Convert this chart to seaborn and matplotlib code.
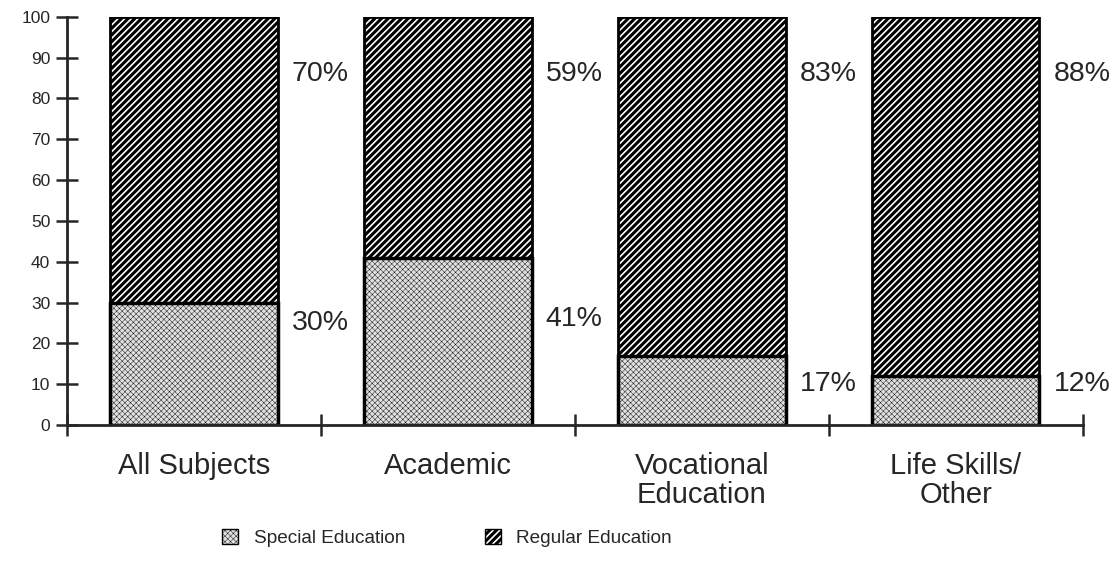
"""Special vs regular education share of course credits, by subject area."""
import matplotlib.pyplot as plt
import pandas as pd
import seaborn as sns
from matplotlib.patches import Patch

categories = ["All Subjects", "Academic", "Vocational\nEducation", "Life Skills/\nOther"]
special_pct = [30, 41, 17, 12]
regular_pct = [70, 59, 83, 88]

regular_label_y = [86, 86, 86, 86]
special_label_y = [25, 26, 10, 10]

SPECIAL_FACE = "#e0e0e0"
SPECIAL_HATCH = "xxxxxx"
REGULAR_HATCH = "/////"

sns.set_style("ticks")
plt.rcParams["font.family"] = ["Liberation Sans", "DejaVu Sans"]
plt.rcParams["hatch.linewidth"] = 2.2


def thin_hatch(patch, lw):
    # hatch linewidth per patch only exists in newer matplotlib
    if hasattr(patch, "set_hatch_linewidth"):
        patch.set_hatch_linewidth(lw)


df = pd.DataFrame({
    "category": categories,
    "special": special_pct,
    "total": [s + r for s, r in zip(special_pct, regular_pct)],
})

fig = plt.figure(figsize=(11.15, 5.8), dpi=100)
ax = fig.add_axes([0.060, 0.267, 0.911, 0.704])

BAR_W = 0.66
# full-height bar = regular education (hatched), special drawn over its base
sns.barplot(data=df, x="category", y="total", color="white", width=BAR_W,
            edgecolor="black", linewidth=2, hatch=REGULAR_HATCH, saturation=1, ax=ax)
n_regular = len(ax.patches)
sns.barplot(data=df, x="category", y="special", color=SPECIAL_FACE, width=BAR_W,
            edgecolor="black", linewidth=2.5, saturation=1, ax=ax)
for p in ax.patches[n_regular:]:
    p.set_hatch(SPECIAL_HATCH)
    thin_hatch(p, 0.3)
for p in ax.patches[:n_regular]:
    thin_hatch(p, 2.2)

for i, (s, r) in enumerate(zip(special_pct, regular_pct)):
    ax.text(i + BAR_W / 2 + 0.055, regular_label_y[i], f"{r}%",
            ha="left", va="center", fontsize=20.5)
    ax.text(i + BAR_W / 2 + 0.055, special_label_y[i], f"{s}%",
            ha="left", va="center", fontsize=20.5)

ax.set_xlim(-0.5, len(categories) - 0.5)
ax.set_ylim(0, 100)
ax.set_yticks(range(0, 101, 10))
ax.tick_params(axis="y", direction="inout", length=16, width=1.8,
               labelsize=12.5, pad=4)

# major x ticks at category boundaries, labels on minor ticks at the centres
ax.set_xticks([i - 0.5 for i in range(len(categories) + 1)])
ax.set_xticklabels([])
ax.set_xticks(range(len(categories)), minor=True)
ax.set_xticklabels(categories, minor=True, fontsize=21, linespacing=1.05)
ax.tick_params(axis="x", which="major", direction="inout", length=16, width=1.8)
ax.tick_params(axis="x", which="minor", length=0, pad=19)

ax.set_xlabel("")
ax.set_ylabel("")
sns.despine(ax=ax)
for side in ("left", "bottom"):
    ax.spines[side].set_linewidth(2)

handles = [
    Patch(facecolor=SPECIAL_FACE, edgecolor="black", hatch=SPECIAL_HATCH,
          linewidth=1, label="Special Education"),
    Patch(facecolor="white", edgecolor="black", hatch=REGULAR_HATCH,
          linewidth=1, label="Regular Education"),
]
leg = fig.legend(handles=handles, loc="center", bbox_to_anchor=(0.401, 0.073),
                 ncol=2, frameon=False, fontsize=13.7, handlelength=0.85,
                 handleheight=0.85, handletextpad=0.8, columnspacing=4.2)
leg_patches = leg.get_patches()
thin_hatch(leg_patches[0], 0.3)
thin_hatch(leg_patches[1], 2.2)

fig.savefig("out.png", dpi=100)
